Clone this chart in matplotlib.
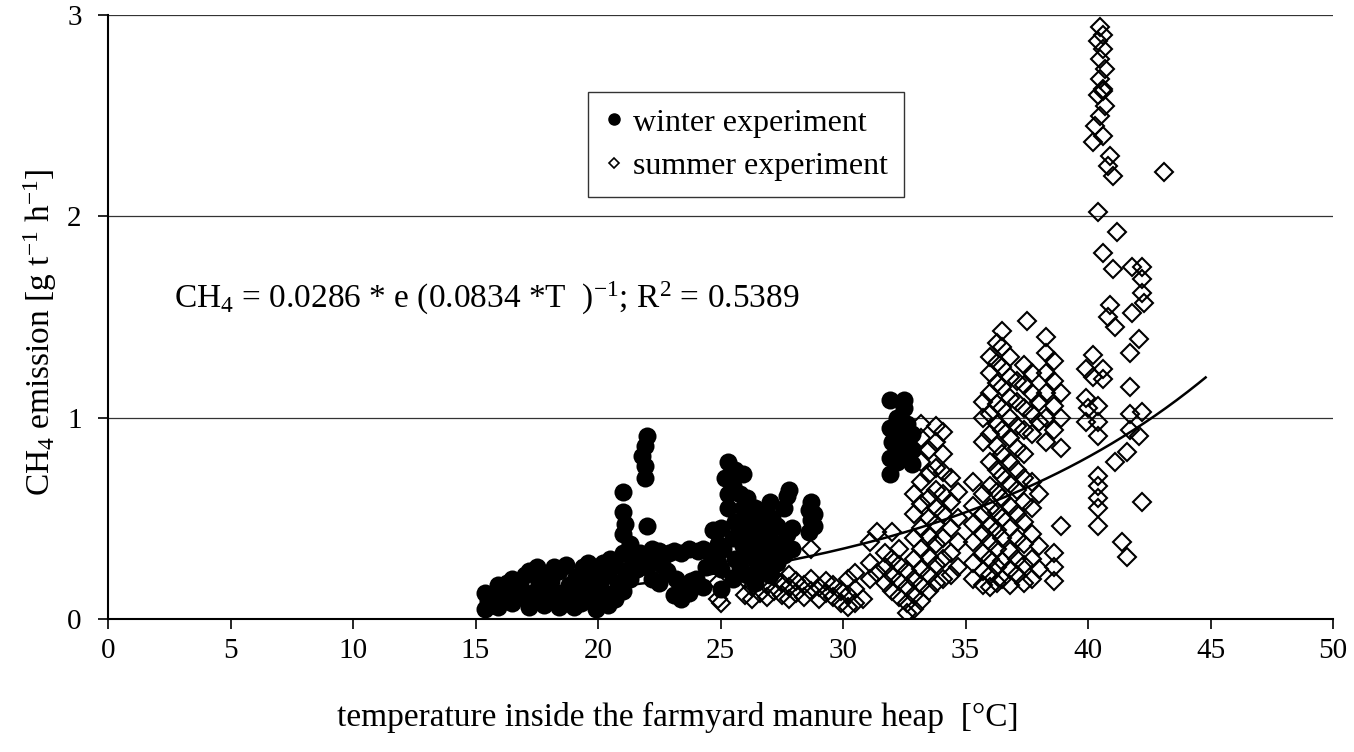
import numpy as np
import matplotlib.pyplot as plt
from matplotlib.lines import Line2D

plt.rcParams['font.family'] = ['Liberation Serif', 'DejaVu Serif']
plt.rcParams['mathtext.fontset'] = 'custom'
plt.rcParams['mathtext.rm'] = 'Liberation Serif'
plt.rcParams['mathtext.it'] = 'Liberation Serif:italic'

# winter experiment: heap temperature [°C] and CH4 emission [g t-1 h-1]
winter_t = [
    15.4, 15.5, 15.4, 15.7, 15.6, 15.9, 16.0, 15.9, 16.2, 16.3,
    16.5, 16.6, 16.5, 16.9, 16.8, 17.0, 17.2, 17.3, 17.2, 17.5,
    17.6, 17.5, 17.8, 17.9, 17.8, 18.1, 18.2, 18.1, 18.4, 18.5,
    18.4, 18.7, 18.8, 18.7, 19.0, 19.1, 19.0, 19.3, 19.4, 19.3,
    19.6, 19.7, 19.6, 19.9, 20.0, 19.9, 20.1, 20.2, 20.1, 20.4,
    20.5, 20.4, 20.5, 20.7, 20.8, 20.7,
    21.0, 21.1, 21.0, 21.0, 21.1, 21.0, 21.0, 21.3, 21.4, 21.3,
    21.6, 21.7, 22.0, 21.9, 21.9, 21.8, 21.9, 22.0, 22.0,
    22.2, 22.3, 22.2, 22.5, 22.6, 22.5, 22.8, 22.9, 23.1, 23.2,
    23.1, 23.4, 23.5, 23.4, 23.7, 23.8, 23.7, 24.0, 24.1, 24.3,
    24.4, 24.3, 24.6, 24.7, 24.9, 24.9,
    25.0, 25.0, 25.1, 25.0, 25.3, 25.3, 25.2, 25.3,
    25.5, 25.6, 25.5, 25.6, 25.5, 25.6, 25.8, 25.9, 25.8, 25.9,
    25.8, 25.9, 26.1, 26.2, 26.1, 26.2, 26.1, 26.4, 26.5, 26.4,
    26.5, 26.4, 26.7, 26.8, 26.7, 26.8, 27.0, 27.1, 27.0, 27.1,
    27.0, 27.3, 27.4, 27.3, 27.6, 27.7, 27.6, 27.7, 27.9, 27.9,
    27.8, 28.6, 28.7, 28.6, 28.7, 28.8, 28.8,
    31.9, 31.9, 32.0, 31.9, 31.9, 32.2, 32.2, 32.3, 32.2, 32.5,
    32.5, 32.6, 32.5, 32.5, 32.8, 32.8, 32.8,
]
winter_ch4 = [
    0.05, 0.09, 0.13, 0.07, 0.11, 0.06, 0.14, 0.17, 0.10, 0.18,
    0.08, 0.14, 0.20, 0.11, 0.17, 0.22, 0.06, 0.13, 0.24, 0.09,
    0.18, 0.26, 0.07, 0.15, 0.22, 0.10, 0.26, 0.19, 0.06, 0.13,
    0.24, 0.09, 0.17, 0.27, 0.12, 0.21, 0.06, 0.08, 0.26, 0.15,
    0.11, 0.19, 0.28, 0.05, 0.14, 0.23, 0.09, 0.28, 0.17, 0.07,
    0.12, 0.22, 0.30, 0.10, 0.18, 0.27,
    0.14, 0.24, 0.33, 0.42, 0.47, 0.53, 0.63, 0.20, 0.30, 0.37,
    0.25, 0.33, 0.46, 0.70, 0.76, 0.81, 0.86, 0.91, 0.26,
    0.20, 0.30, 0.35, 0.18, 0.27, 0.34, 0.24, 0.33, 0.12, 0.20,
    0.34, 0.10, 0.17, 0.33, 0.13, 0.19, 0.35, 0.20, 0.34, 0.16,
    0.26, 0.35, 0.32, 0.44, 0.28, 0.37,
    0.15, 0.25, 0.35, 0.45, 0.55, 0.62, 0.70, 0.78,
    0.20, 0.30, 0.40, 0.48, 0.66, 0.74, 0.26, 0.36, 0.45, 0.55,
    0.62, 0.72, 0.22, 0.32, 0.42, 0.50, 0.60, 0.18, 0.28, 0.38,
    0.47, 0.55, 0.25, 0.34, 0.44, 0.52, 0.22, 0.31, 0.40, 0.50,
    0.58, 0.28, 0.37, 0.46, 0.32, 0.42, 0.55, 0.61, 0.35, 0.45,
    0.64, 0.43, 0.49, 0.54, 0.58, 0.46, 0.52,
    0.72, 0.80, 0.88, 0.95, 1.09, 0.78, 0.86, 0.94, 1.00, 0.80,
    0.88, 0.97, 1.05, 1.09, 0.77, 0.84, 0.92,
]

# summer experiment
summer_t = [
    24.9, 24.9, 25.0, 26.0, 26.0, 26.3, 26.3, 26.3, 26.6, 26.6,
    26.6, 26.9, 26.9, 26.9, 27.2, 27.2, 27.5, 27.5, 27.8, 27.8,
    27.8, 28.1, 28.1, 28.4, 28.4, 28.7, 28.7, 28.7, 29.0, 29.0,
    29.3, 29.3, 29.6, 29.6, 29.9, 29.9, 30.2, 30.2, 30.2, 30.5,
    30.5, 30.5, 30.8,
    31.1, 31.1, 31.1, 31.4, 31.4, 31.7, 31.7, 31.7, 32.0, 32.0,
    32.0, 32.0, 32.3, 32.3, 32.3, 32.3, 32.6, 32.6, 32.6, 32.6,
    32.9, 32.9, 32.9, 32.9, 32.9, 32.9, 32.9,
    33.2, 33.2, 33.2, 33.2, 33.2, 33.2, 33.2, 33.2, 33.2, 33.2,
    33.5, 33.5, 33.5, 33.5, 33.5, 33.5, 33.5, 33.5,
    33.8, 33.8, 33.8, 33.8, 33.8, 33.8, 33.8, 33.8, 33.8,
    34.1, 34.1, 34.1, 34.1, 34.1, 34.1, 34.1, 34.1,
    34.4, 34.4, 34.4, 34.4, 34.4, 34.7, 34.7, 34.7, 34.7,
    35.3, 35.3, 35.3, 35.3, 35.3, 35.3,
    35.7, 35.7, 35.7, 35.7, 35.7, 35.7, 35.7, 35.7, 35.7,
    36.0, 36.0, 36.0, 36.0, 36.0, 36.0, 36.0, 36.0, 36.0, 36.0,
    36.0, 36.0, 36.0,
    36.3, 36.3, 36.3, 36.3, 36.3, 36.3, 36.3, 36.3, 36.3, 36.3,
    36.3, 36.3, 36.3,
    36.5, 36.5, 36.5, 36.5, 36.5, 36.5, 36.5, 36.5, 36.5, 36.5,
    36.5, 36.5, 36.5,
    36.8, 36.8, 36.8, 36.8, 36.8, 36.8, 36.8, 36.8, 36.8, 36.8,
    36.8, 36.8,
    37.1, 37.1, 37.1, 37.1, 37.1, 37.1, 37.1, 37.1, 37.1, 37.1,
    37.4, 37.4, 37.4, 37.4, 37.4, 37.4, 37.4, 37.4, 37.4, 37.4,
    37.4, 37.5,
    37.7, 37.7, 37.7, 37.7, 37.7, 37.7, 37.7, 37.7, 37.7,
    38.0, 38.0, 38.0, 38.0, 38.0,
    38.3, 38.3, 38.3, 38.3, 38.3, 38.3,
    38.6, 38.6, 38.6, 38.6, 38.6, 38.6, 38.6,
    38.9, 38.9, 38.9, 38.9,
    39.9, 39.9, 39.9, 40.0, 40.2, 40.2, 40.2, 40.4,
    40.4, 40.4, 40.4, 40.4, 40.4, 40.4, 40.4, 40.4,
    40.6, 40.6, 40.6,
    40.5, 40.6, 40.4, 40.6, 40.5, 40.7, 40.5, 40.6, 40.4, 40.7,
    40.5, 40.3, 40.6, 40.9, 40.8, 41.0, 40.6,
    41.0, 40.9, 40.8, 41.1, 41.1, 41.2, 41.4, 41.6, 41.6,
    41.7, 41.7, 41.7, 41.7, 41.8, 41.8, 42.1, 42.1,
    42.2, 42.2, 42.2, 42.2, 42.2, 42.3, 43.1,
]
summer_ch4 = [
    0.10, 0.18, 0.08, 0.12, 0.20, 0.10, 0.16, 0.25, 0.13, 0.19,
    0.28, 0.11, 0.17, 0.23, 0.14, 0.21, 0.12, 0.18, 0.10, 0.16,
    0.22, 0.13, 0.19, 0.11, 0.17, 0.14, 0.20, 0.35, 0.10, 0.16,
    0.13, 0.19, 0.11, 0.17, 0.08, 0.14, 0.06, 0.12, 0.20, 0.08,
    0.15, 0.23, 0.10,
    0.20, 0.28, 0.38, 0.23, 0.43, 0.18, 0.26, 0.33, 0.14, 0.22,
    0.30, 0.43, 0.11, 0.19, 0.27, 0.35, 0.03, 0.08, 0.16, 0.24,
    0.05, 0.12, 0.20, 0.30, 0.40, 0.52, 0.62,
    0.09, 0.17, 0.25, 0.35, 0.45, 0.57, 0.68, 0.78, 0.90, 0.97,
    0.14, 0.22, 0.31, 0.41, 0.50, 0.60, 0.72, 0.84,
    0.18, 0.27, 0.37, 0.47, 0.55, 0.64, 0.75, 0.88, 0.96,
    0.20, 0.30, 0.40, 0.52, 0.62, 0.73, 0.82, 0.93,
    0.22, 0.33, 0.45, 0.58, 0.70, 0.26, 0.38, 0.50, 0.63,
    0.20, 0.28, 0.38, 0.47, 0.56, 0.68,
    0.17, 0.24, 0.33, 0.42, 0.52, 0.62, 0.88, 1.00, 1.08,
    0.16, 0.22, 0.30, 0.38, 0.46, 0.55, 0.66, 0.78, 0.92, 1.02,
    1.12, 1.22, 1.30,
    0.18, 0.26, 0.35, 0.44, 0.53, 0.63, 0.74, 0.86, 0.97, 1.07,
    1.17, 1.27, 1.37,
    0.20, 0.29, 0.40, 0.50, 0.60, 0.71, 0.82, 0.94, 1.05, 1.15,
    1.25, 1.35, 1.43,
    0.17, 0.25, 0.34, 0.45, 0.56, 0.67, 0.78, 0.90, 1.00, 1.10,
    1.20, 1.30,
    0.22, 0.30, 0.40, 0.52, 0.64, 0.74, 0.85, 0.96, 1.08, 1.18,
    0.18, 0.27, 0.37, 0.48, 0.58, 0.70, 0.82, 0.94, 1.05, 1.16,
    1.26, 1.48,
    0.20, 0.30, 0.42, 0.55, 0.68, 0.92, 1.02, 1.12, 1.22,
    0.25, 0.36, 0.62, 0.98, 1.08,
    0.88, 1.00, 1.12, 1.22, 1.32, 1.40,
    0.19, 0.26, 0.33, 0.94, 1.06, 1.18, 1.28,
    0.46, 0.85, 1.00, 1.12,
    0.98, 1.10, 1.24, 1.05, 1.20, 1.31, 2.37, 0.46,
    0.55, 0.60, 0.66, 0.71, 0.91, 0.98, 1.06, 2.02,
    1.24, 1.19, 1.82,
    2.94, 2.90, 2.87, 2.83, 2.78, 2.73, 2.68, 2.63, 2.60, 2.55,
    2.50, 2.45, 2.40, 2.30, 2.25, 2.20, 2.62,
    1.74, 1.56, 1.50, 1.45, 0.78, 1.92, 0.38, 0.31, 0.83,
    0.94, 1.02, 1.15, 1.32, 1.75, 1.52, 0.91, 1.39,
    0.58, 1.03, 1.62, 1.69, 1.75, 1.57, 2.22,
]

# exponential fit CH4 = a * exp(b * T)
fit_a = 0.0286
fit_b = 0.0834
fit_range = (15.5, 44.8)

fig = plt.figure(figsize=(13.54, 7.52), dpi=100)
ax = fig.add_axes([0.0798, 0.1769, 0.9047, 0.8032])

t_fit = np.linspace(fit_range[0], fit_range[1], 200)
ax.plot(t_fit, fit_a * np.exp(fit_b * t_fit), color='black', lw=1.8, zorder=3)

ax.plot(winter_t, winter_ch4, 'o', color='black', markersize=13,
        markeredgewidth=0, zorder=5)
ax.plot(summer_t, summer_ch4, 'D', markerfacecolor='none',
        markeredgecolor='black', markersize=9.5, markeredgewidth=1.5,
        zorder=4)

ax.set_xlim(0, 50)
ax.set_ylim(0, 3)
ax.set_xticks(range(0, 51, 5))
ax.set_yticks([0, 1, 2, 3])
ax.yaxis.grid(True, color='#333333', lw=0.9)
ax.set_axisbelow(True)
ax.spines['top'].set_visible(False)
ax.spines['right'].set_visible(False)
ax.spines['left'].set_linewidth(1.5)
ax.spines['bottom'].set_linewidth(1.5)
ax.tick_params(axis='both', direction='out', length=7, width=1.2,
               labelsize=21)
ax.tick_params(axis='x', pad=7)
ax.tick_params(axis='y', pad=12)

ax.set_xlabel('temperature inside the farmyard manure heap  [°C]',
              fontsize=24)
ax.xaxis.set_label_coords(0.465, -0.138)
ax.set_ylabel(r'CH$_4$ emission [g t$^{-1}$ h$^{-1}$]', fontsize=24)
ax.yaxis.set_label_coords(-0.04, 0.475)

ax.text(2.7, 1.59, r'CH$_4$ = 0.0286 * e (0.0834 *T  )$^{-1}$; R$^2$ = 0.5389',
        fontsize=24, va='center', ha='left')

handles = [
    Line2D([], [], marker='o', ls='none', color='black', markersize=8),
    Line2D([], [], marker='D', ls='none', markerfacecolor='none',
           markeredgecolor='black', markersize=5.5, markeredgewidth=1.2),
]
leg = ax.legend(handles, ['winter experiment', 'summer experiment'],
                loc='upper left', bbox_to_anchor=(0.392, 0.872),
                fontsize=23, frameon=True, fancybox=False, handlelength=0.6,
                handletextpad=0.3, borderpad=0.5, labelspacing=0.45,
                borderaxespad=0)
leg.get_frame().set_edgecolor('black')
leg.get_frame().set_linewidth(1.0)

fig.savefig('out.png', dpi=100)
